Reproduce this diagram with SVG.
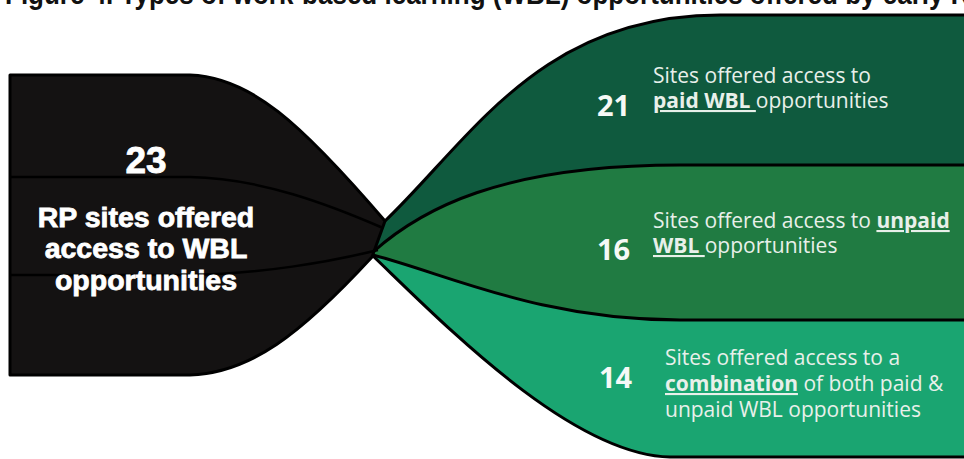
<svg xmlns="http://www.w3.org/2000/svg" width="964" height="459" viewBox="0 0 964 459">
<style>
.edge{stroke:#000;stroke-width:3;stroke-linejoin:round;fill:none}
.src{fill:#141212;stroke:#000;stroke-width:3;stroke-linejoin:round}
.inner{stroke:#000;stroke-width:2.5;fill:none}
.big{font-family:"Liberation Sans",Arial,sans-serif;font-weight:bold;fill:#fff;stroke:#fff;stroke-width:0.8;text-anchor:middle}
.num{font-family:"Open Sans","Noto Sans",sans-serif;font-weight:bold;font-size:29px;fill:#f6f9f6}
.lbl{font-family:"Open Sans","Noto Sans",sans-serif;font-size:21px;fill:#e8f0ea}
.b{font-weight:bold;text-decoration:underline}
.title{font-family:"Liberation Sans",Arial,sans-serif;font-weight:bold;font-size:30px;fill:#111}
</style>
<rect width="964" height="459" fill="#fff"/>
<text class="title" transform="translate(5,4) scale(0.867,1)">Figure 4. Types of work-based learning (WBL) opportunities offered by early RP sites</text>

<g id="node-paid">
<path d="M385,221 C470,140 540,15 720,15 L970,15 L970,165 L680,165 C500,165 420,210 373,252 Z" fill="#0f5a3e"/>
</g>
<g id="node-unpaid">
<path d="M373,252 C420,210 500,165 680,165 L970,165 L970,320 L680,320 C540,320 450,275 373,255 Z" fill="#207b42"/>
</g>
<g id="node-combination">
<path d="M373,255 C450,275 540,320 680,320 L970,320 L970,457 L670,457 C570,455 440,320 373,256 Z" fill="#1aa571"/>
</g>

<g id="node-source">
<path class="src" d="M10,75 L190,75 C250,77 300,122 385,221 L372,257 C300,335 250,373 190,375 L10,375 Z"/>
</g>

<g id="connectors">
<path class="edge" d="M385,221 C470,140 540,15 720,15 L970,15"/>
<path class="edge" d="M373,252 C420,210 500,165 680,165 L970,165"/>
<path class="edge" d="M373,255 C450,275 540,320 680,320 L970,320"/>
<path class="edge" d="M373,256 C440,320 570,455 670,457 L970,457"/>
<path class="inner" d="M10,177 L190,177 C260,178 330,205 383,228"/>
<path class="inner" d="M10,275 L190,275 C260,274 330,262 378,250"/>
</g>

<g id="labels-source">
<text class="big" x="146" y="173" font-size="37">23</text>
<text class="big" x="146" y="227" font-size="28.5">RP sites offered</text>
<text class="big" x="146" y="258" font-size="28.5">access to WBL</text>
<text class="big" x="146" y="290" font-size="28.5">opportunities</text>
</g>

<g id="labels-paid">
<text class="num" x="597" y="116">21</text>
<text class="lbl" x="653" y="83">Sites offered access to</text>
<text class="lbl" x="653" y="108"><tspan class="b">paid WBL </tspan>opportunities</text>
</g>
<g id="labels-unpaid">
<text class="num" x="597" y="260">16</text>
<text class="lbl" x="653" y="228">Sites offered access to <tspan class="b">unpaid</tspan></text>
<text class="lbl" x="653" y="253"><tspan class="b">WBL </tspan>opportunities</text>
</g>
<g id="labels-combination">
<text class="num" x="599" y="388">14</text>
<text class="lbl" x="665" y="365">Sites offered access to a</text>
<text class="lbl" x="665" y="391"><tspan class="b">combination</tspan> of both paid &amp;</text>
<text class="lbl" x="665" y="417">unpaid WBL opportunities</text>
</g>
</svg>
